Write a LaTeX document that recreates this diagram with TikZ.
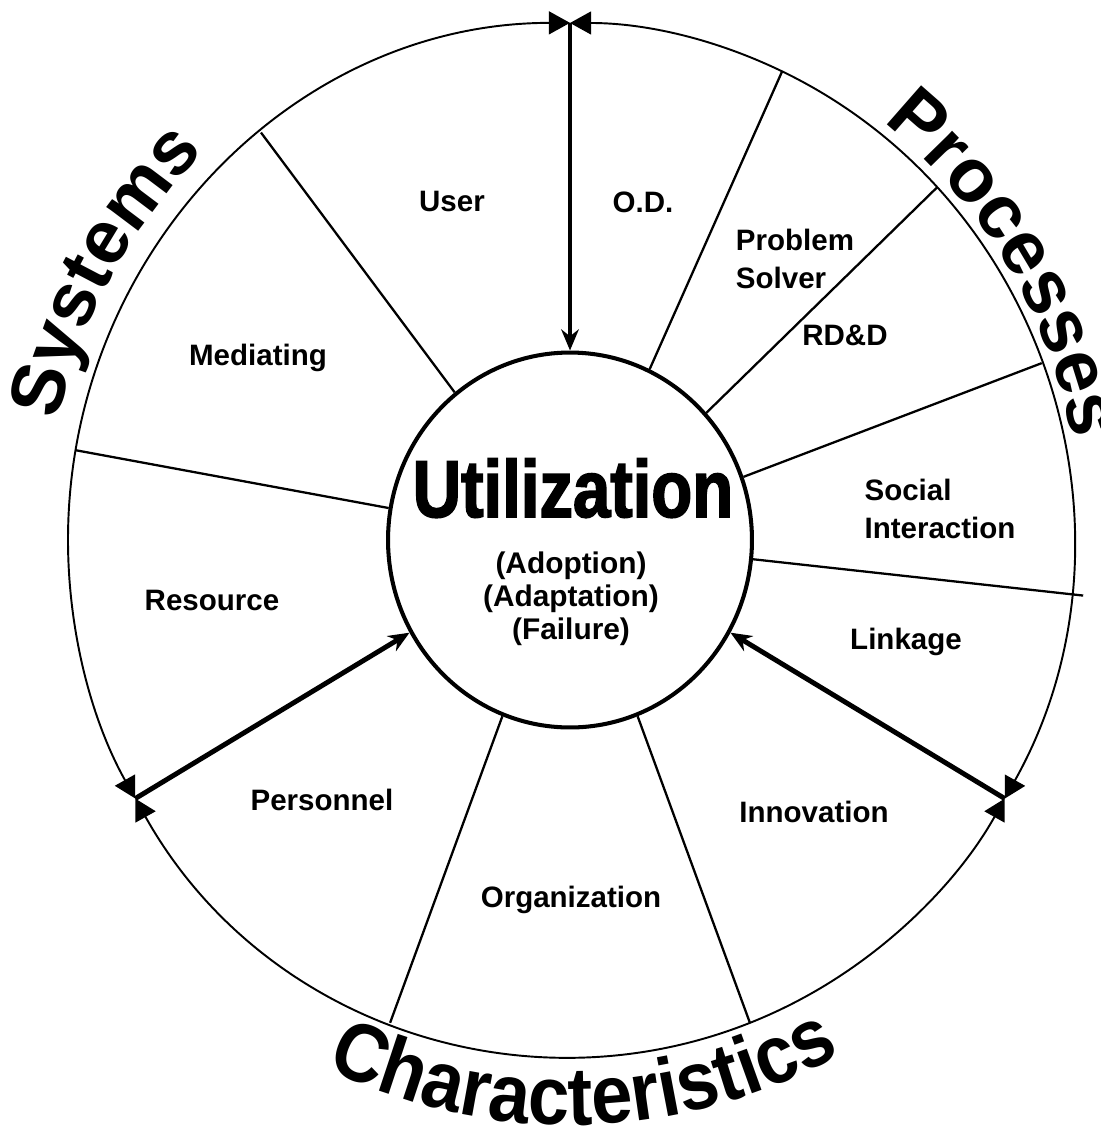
\documentclass[tikz,border=0pt]{standalone}
\usepackage{fontspec}
\setmainfont{Liberation Sans}
\newfontfamily\utilfont{Liberation Sans}[FakeStretch=0.83, FakeBold=2]
\newfontfamily\narrowfont{Liberation Sans}[FakeStretch=0.9]
\usepackage{tikz}
\usetikzlibrary{arrows.meta,shapes.geometric,decorations.text}

\newcommand\wordfont{\bfseries\fontsize{43}{50}\selectfont}
\newcommand\charfont{\narrowfont\bfseries\fontsize{47}{54}\selectfont}

\begin{document}
\begin{tikzpicture}[x=0.02cm, y=0.02cm,
  every node/.style={font=\bfseries\fontsize{16.8}{21.5}\selectfont, align=center},
  rim/.style={line width=1.1pt, {Triangle[length=12pt,width=13pt]}-{Triangle[length=12pt,width=13pt]}},
  spoke/.style={line width=1.3pt},
  feed/.style={line width=2.8pt, -{Stealth[length=12pt,width=10pt]}},
  hubring/.style={draw, ellipse, line width=2.3pt, minimum width=7.28cm,
                  minimum height=7.5cm, inner sep=0pt},
  word/.style={decorate, decoration={text along path, text align=center,
               text={|\wordfont|#1}}},
  bigword/.style={decorate, decoration={text along path, text align=center,
               text={|\charfont|#1}}}]
  \def\rr{502}

  \useasboundingbox (0,0) rectangle (1101,-1133);
  \clip (0,0) rectangle (1101,-1133);

  \begin{scope}[shift={(570,-540)}, yscale=1.03]
    \node[hubring] (hub) at (0,0) {};

    % points on the rim
    \foreach \a in {90,210,330,128,170,249,291,20,43,65,354}
      \coordinate (r\a) at (\a:\rr);
    \coordinate (tail) at (354:516);

    % rim, three arcs
    \draw[rim] (r90) arc[start angle=90, end angle=210, radius=\rr];
    \draw[rim] (r210) arc[start angle=210, end angle=330, radius=\rr];
    \draw[rim] (r330) arc[start angle=330, end angle=450, radius=\rr];

    % spokes
    \foreach \a in {128,170,249,291,20,43,65}
      \draw[spoke] (hub.\a) -- (r\a);
    \draw[spoke] (hub.354) -- (tail);

    % arrows into the hub
    \foreach \a in {90,210,330}
      \draw[feed] (r\a) -- (hub.\a);

    % curved titles
    \path[word=Systems] (200.3:525) arc[start angle=200.3, end angle=100.3, radius=525];
    \path[word=Processes] (82:512) arc[start angle=82, end angle=-18, radius=512];
    \path[bigword=Characteristics] (221.5:568) arc[start angle=221.5, end angle=321.5, radius=568];
  \end{scope}

  \node[font=\utilfont\bfseries\fontsize{46}{50}\selectfont, anchor=base] (util)
      at (573,-517) {Utilization};
  \node[font=\bfseries\fontsize{17}{18.7}\selectfont] (modes)
      at (571,-599) {(Adoption)\\(Adaptation)\\(Failure)};

  \node (user) at (452,-201) {User};
  \node (od) at (643,-202) {O.D.};
  \node[align=left] (solver) at (795,-259) {Problem\\Solver};
  \node (rdd) at (845,-335) {RD\&D};
  \node[align=left] (social) at (940,-509) {Social\\Interaction};
  \node (linkage) at (906,-642) {Linkage};
  \node (innov) at (814,-812) {Innovation};
  \node (organ) at (571,-900) {Organization};
  \node (personnel) at (322,-800) {Personnel};
  \node (resource) at (212,-600) {Resource};
  \node (mediating) at (258,-358) {Mediating};
\end{tikzpicture}
\end{document}
